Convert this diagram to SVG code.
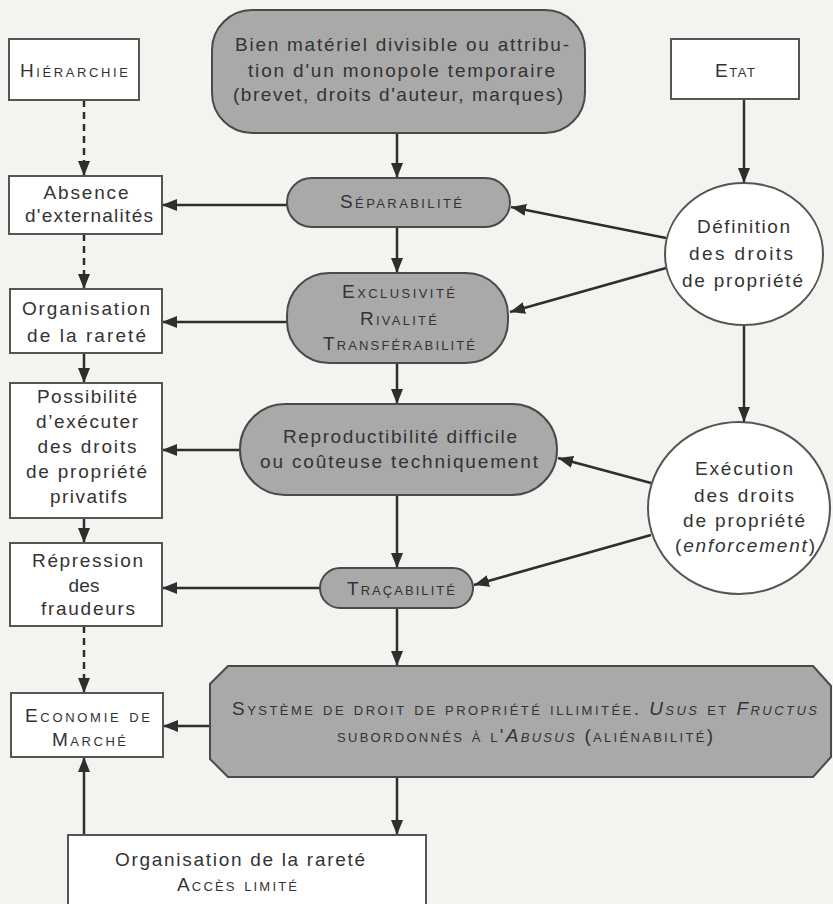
<svg xmlns="http://www.w3.org/2000/svg" width="833" height="904" viewBox="0 0 833 904">
<defs>
<marker id="ah" markerUnits="userSpaceOnUse" markerWidth="16" markerHeight="12" refX="15" refY="6" orient="auto">
<path d="M0,0 L15,6 L0,12 Z" fill="#2e2e2e"/>
</marker>
<style>
text{font-family:"Liberation Sans",Arial,sans-serif;font-size:19px;fill:#333;text-anchor:middle}
.sc{font-variant:small-caps}
.it{font-style:italic}
.box{fill:#ffffff;stroke:#555;stroke-width:2}
.gray{fill:#a9a9a9;stroke:#4a4a4a;stroke-width:2}
.c line{stroke:#2e2e2e;stroke-width:2.5;marker-end:url(#ah)}
.c .d{stroke-dasharray:7 5}
</style>
</defs>
<rect width="833" height="904" fill="#f3f3f0"/>

<g class="c" id="connectors">
<line class="d" x1="84" y1="100" x2="84" y2="176"/>
<line class="d" x1="84" y1="234" x2="84" y2="289"/>
<line x1="84" y1="353" x2="84" y2="383"/>
<line x1="84" y1="518" x2="84" y2="543"/>
<line class="d" x1="84" y1="626" x2="84" y2="693"/>
<line x1="84" y1="835" x2="84" y2="757"/>
<line x1="397" y1="133" x2="397" y2="178"/>
<line x1="397" y1="227" x2="397" y2="273"/>
<line x1="397" y1="363" x2="397" y2="404"/>
<line x1="397" y1="495" x2="397" y2="568"/>
<line x1="397" y1="608" x2="397" y2="666"/>
<line x1="397" y1="777" x2="397" y2="835"/>
<line x1="287" y1="205" x2="162" y2="205"/>
<line x1="287" y1="322" x2="162" y2="322"/>
<line x1="240" y1="450" x2="162" y2="450"/>
<line x1="320" y1="588" x2="162" y2="588"/>
<line x1="210" y1="726" x2="163" y2="726"/>
<line x1="744" y1="99" x2="744" y2="183"/>
<line x1="744" y1="325" x2="744" y2="422"/>
<line x1="666" y1="238" x2="511" y2="207"/>
<line x1="666" y1="268" x2="510" y2="312"/>
<line x1="651" y1="483" x2="558" y2="458"/>
<line x1="651" y1="535" x2="474" y2="585"/>
</g>

<g id="hierarchie">
<rect class="box" x="9" y="39" width="130" height="61"/>
<text class="sc" x="74" y="77" textLength="108" lengthAdjust="spacing">Hiérarchie</text>
</g>
<g id="absence">
<rect class="box" x="9" y="176" width="153" height="58"/>
<text x="86" y="199" textLength="85" lengthAdjust="spacing">Absence</text>
<text x="89" y="222" textLength="128" lengthAdjust="spacing">d'externalités</text>
</g>
<g id="organisation">
<rect class="box" x="10" y="289" width="152" height="64"/>
<text x="86" y="315" textLength="128" lengthAdjust="spacing">Organisation</text>
<text x="86.5" y="342" textLength="119" lengthAdjust="spacing">de la rareté</text>
</g>
<g id="possibilite">
<rect class="box" x="10" y="383" width="152" height="135"/>
<text x="87" y="403" textLength="100" lengthAdjust="spacing">Possibilité</text>
<text x="87" y="428" textLength="102" lengthAdjust="spacing">d’exécuter</text>
<text x="87" y="453" textLength="99" lengthAdjust="spacing">des droits</text>
<text x="86.5" y="478" textLength="121" lengthAdjust="spacing">de propriété</text>
<text x="88.5" y="503" textLength="77" lengthAdjust="spacing">privatifs</text>
</g>
<g id="repression">
<rect class="box" x="10" y="543" width="152" height="83"/>
<text x="87.5" y="567" textLength="111" lengthAdjust="spacing">Répression</text>
<text x="84" y="592" textLength="31" lengthAdjust="spacing">des</text>
<text x="88" y="615" textLength="94" lengthAdjust="spacing">fraudeurs</text>
</g>
<g id="economie">
<rect class="box" x="11" y="693" width="152" height="64"/>
<text class="sc" x="87.5" y="722" textLength="125" lengthAdjust="spacing">Economie de</text>
<text class="sc" x="89" y="746" textLength="74" lengthAdjust="spacing">Marché</text>
</g>
<g id="acces">
<rect class="box" x="68" y="835" width="358" height="80"/>
<text x="240" y="866" textLength="250" lengthAdjust="spacing">Organisation de la rareté</text>
<text class="sc" x="237" y="891" textLength="120" lengthAdjust="spacing">Accès limité</text>
</g>

<g id="bien">
<rect class="gray" x="212" y="10" width="373" height="123" rx="40" ry="40"/>
<text x="402" y="51" textLength="334" lengthAdjust="spacing">Bien matériel divisible ou attribu-</text>
<text x="401.5" y="77" textLength="307" lengthAdjust="spacing">tion d'un monopole temporaire</text>
<text x="398" y="101" textLength="330" lengthAdjust="spacing">(brevet, droits d'auteur, marques)</text>
</g>
<g id="separabilite">
<rect class="gray" x="287" y="178" width="223" height="49" rx="24.5" ry="24.5"/>
<text class="sc" x="401" y="208" textLength="122" lengthAdjust="spacing">Séparabilité</text>
</g>
<g id="exclusivite">
<rect class="gray" x="287" y="273" width="221" height="90" rx="42" ry="42"/>
<text class="sc" x="398.5" y="298" textLength="113" lengthAdjust="spacing">Exclusivité</text>
<text class="sc" x="398.5" y="325" textLength="77" lengthAdjust="spacing">Rivalité</text>
<text class="sc" x="399" y="350" textLength="152" lengthAdjust="spacing">Transférabilité</text>
</g>
<g id="reproductibilite">
<rect class="gray" x="240" y="404" width="317" height="91" rx="45" ry="45"/>
<text x="400" y="443" textLength="234" lengthAdjust="spacing">Reproductibilité difficile</text>
<text x="399" y="468" textLength="278" lengthAdjust="spacing">ou coûteuse techniquement</text>
</g>
<g id="tracabilite">
<rect class="gray" x="320" y="568" width="153" height="40" rx="20" ry="20"/>
<text class="sc" x="401" y="595" textLength="108" lengthAdjust="spacing">Traçabilité</text>
</g>
<g id="systeme">
<polygon class="gray" points="228,666 813,666 831,686 831,757 813,777 228,777 210,759 210,684"/>
<text class="sc" x="524.5" y="715" textLength="585" lengthAdjust="spacing">Système de droit de propriété illimitée. <tspan class="it">Usus</tspan> et <tspan class="it">Fructus</tspan></text>
<text class="sc" x="525" y="742" textLength="376" lengthAdjust="spacing">subordonnés à l'<tspan class="it">Abusus</tspan> (aliénabilité)</text>
</g>

<g id="etat">
<rect class="box" x="671" y="39" width="128" height="60"/>
<text class="sc" x="735" y="77" textLength="40" lengthAdjust="spacing">Etat</text>
</g>
<g id="definition">
<ellipse class="box" cx="744" cy="254" rx="79" ry="71"/>
<text x="743.5" y="233" textLength="93" lengthAdjust="spacing">Définition</text>
<text x="741" y="260" textLength="104" lengthAdjust="spacing">des droits</text>
<text x="742.5" y="287" textLength="121" lengthAdjust="spacing">de propriété</text>
</g>
<g id="execution">
<ellipse class="box" cx="739" cy="508" rx="91" ry="86"/>
<text x="744" y="475" textLength="98" lengthAdjust="spacing">Exécution</text>
<text x="744" y="502" textLength="100" lengthAdjust="spacing">des droits</text>
<text x="744" y="527" textLength="122" lengthAdjust="spacing">de propriété</text>
<text x="745" y="552" textLength="140" lengthAdjust="spacing">(<tspan class="it">enforcement</tspan>)</text>
</g>
</svg>
